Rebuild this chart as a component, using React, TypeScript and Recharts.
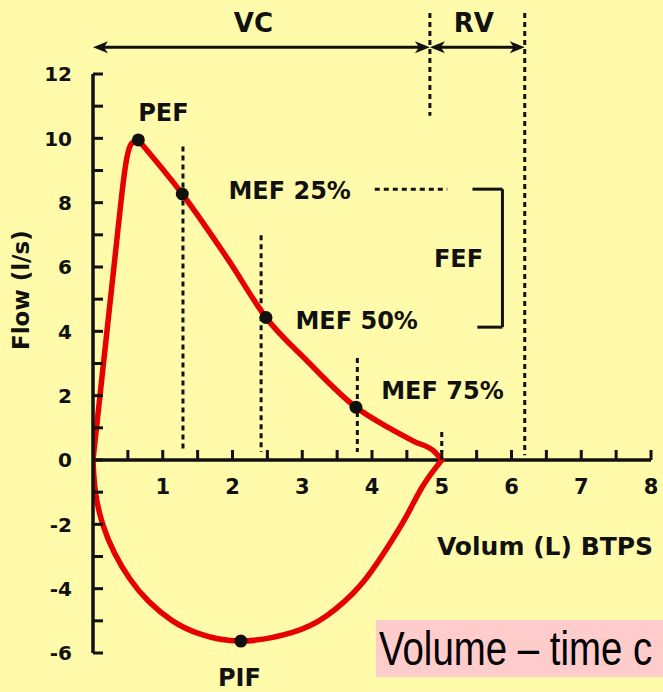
import React from 'react';
import { ComposedChart, Line, Scatter, XAxis, YAxis, ReferenceLine, ReferenceDot } from 'recharts';

// expiration, rising limb (volume L, flow l/s)
const riseVolume = [0, 0.06, 0.13, 0.2, 0.27, 0.34, 0.41, 0.47, 0.54, 0.65];
const riseFlow = [0, 1.2, 2.6, 4.0, 5.4, 6.8, 8.2, 9.2, 9.8, 9.95];

// expiration, falling limb
const fallVolume = [0.65, 1.28, 1.95, 2.48, 3.06, 3.77, 4.25, 4.6, 4.9, 5.0];
const fallFlow = [9.95, 8.27, 6.19, 4.43, 3.1, 1.64, 0.99, 0.58, 0.25, 0];

// inspiration
const inspVolume = [5.0, 4.92, 4.72, 4.49, 4.2, 3.82, 3.34, 2.86, 2.12, 1.52, 1.14, 0.8, 0.53, 0.31, 0.14, 0.035, 0];
const inspFlow = [0, -0.22, -0.84, -1.76, -2.79, -3.93, -4.86, -5.36, -5.63, -5.4, -5.0, -4.4, -3.7, -2.9, -2.0, -1.0, 0];

// marked points
const keyNames = ['PEF', 'MEF 25%', 'MEF 50%', 'MEF 75%', 'PIF'];
const keyVolume = [0.65, 1.28, 2.48, 3.77, 2.12];
const keyFlow = [9.95, 8.27, 4.43, 1.64, -5.63];

// dotted guides under MEF points and at end of expiration
const guideVolume = [1.29, 2.41, 3.79, 5.0];
const guideTop = [9.75, 6.99, 3.17, 0.87];

const vcEnd = 4.83;
const rvEnd = 6.19;
const fefTop = 8.42;
const fefBottom = 4.13;

const yTicks = [-6, -5, -4, -3, -2, -1, 0, 1, 2, 3, 4, 5, 6, 7, 8, 9, 10, 11, 12];
const xTicks = [0.5, 1, 1.5, 2, 2.5, 3, 3.5, 4, 4.5, 5, 5.5, 6, 6.5, 7, 7.5, 8];
const xTickLabels = ['1', '2', '3', '4', '5', '6', '7', '8'];

const caption = 'Volume – time c';

const INK = '#111';
const RED = '#e60000';
const FONT = '"DejaVu Sans", sans-serif';

const toRows = (vol: number[], flow: number[]) => vol.map((v, i) => ({ v, f: flow[i] }));

const YTick = (props: any) => {
  const { x, y, payload } = props;
  const val = payload.value;
  return (
    <g>
      <line x1={x} y1={y} x2={x + 10} y2={y} stroke={INK} strokeWidth={3} />
      {val % 2 === 0 && (
        <text x={x - 21} y={y} dy="0.36em" textAnchor="end" fontSize={20} fontFamily={FONT} fontWeight="bold" fill={INK}>
          {val}
        </text>
      )}
    </g>
  );
};

const xTickShape = (v: number) => (p: any) => {
  const idx = Number.isInteger(v) ? v - 1 : -1;
  return (
    <g>
      <line x1={p.cx} y1={p.cy} x2={p.cx} y2={p.cy - 10} stroke={INK} strokeWidth={3} />
      {idx >= 0 && (
        <text x={p.cx} y={p.cy + 26} dy="0.36em" textAnchor="middle" fontSize={21} fontFamily={FONT} fontWeight="bold" fill={INK}>
          {xTickLabels[idx]}
        </text>
      )}
    </g>
  );
};

const textAt = (text: string, size: number, rotate = 0) => (p: any) => (
  <text
    x={p.cx}
    y={p.cy}
    dy="0.36em"
    textAnchor="middle"
    fontSize={size}
    fontFamily={FONT}
    fontWeight="bold"
    fill={INK}
    transform={rotate ? `rotate(${rotate} ${p.cx} ${p.cy})` : undefined}
  >
    {text}
  </text>
);

const doubleArrow = (p: any) => {
  const { x1, y1, x2, y2 } = p;
  const h = 15;
  const w = 6;
  return (
    <g>
      <line x1={x1 + 6} y1={y1} x2={x2 - 6} y2={y2} stroke={INK} strokeWidth={3} />
      <polygon points={`${x1},${y1} ${x1 + h},${y1 - w} ${x1 + h - 4},${y1} ${x1 + h},${y1 + w}`} fill={INK} />
      <polygon points={`${x2},${y2} ${x2 - h},${y2 - w} ${x2 - h + 4},${y2} ${x2 - h},${y2 + w}`} fill={INK} />
    </g>
  );
};

const dashed = { stroke: INK, strokeWidth: 3, strokeDasharray: '5 4' };

const App = () => {
  const keyData = keyVolume.map((v, i) => ({ v, f: keyFlow[i], name: keyNames[i] }));
  const labelPos: Record<string, [number, number]> = {
    PEF: [1.01, 10.8],
    'MEF 25%': [2.82, 8.39],
    'MEF 50%': [3.78, 4.35],
    'MEF 75%': [5.01, 2.17],
    PIF: [2.1, -6.77],
  };

  return (
    <div style={{ position: 'absolute', left: 0, top: 0, width: 663, height: 692, overflow: 'hidden', background: '#fffbaa' }}>
      <ComposedChart width={663} height={692} margin={{ top: 74, right: 12, bottom: 39, left: 0 }}>
        <XAxis dataKey="v" type="number" domain={[0, 8]} allowDataOverflow hide />
        <YAxis
          type="number"
          domain={[-6, 12]}
          ticks={yTicks}
          interval={0}
          width={93}
          allowDataOverflow
          axisLine={{ stroke: INK, strokeWidth: 3.5 }}
          tickLine={false}
          tickSize={0}
          tickMargin={0}
          tick={<YTick />}
        />

        {/* x axis drawn on the zero line */}
        <ReferenceLine segment={[{ x: 0, y: 0 }, { x: 8, y: 0 }]} stroke={INK} strokeWidth={3.5} ifOverflow="visible" />
        {xTicks.map((v) => (
          <ReferenceDot key={`xt-${v}`} x={v} y={0} r={1} ifOverflow="visible" shape={xTickShape(v)} />
        ))}

        {/* guides */}
        {guideVolume.map((v, i) => (
          <ReferenceLine key={`g-${v}`} segment={[{ x: v, y: guideTop[i] }, { x: v, y: 0.25 }]} {...dashed} ifOverflow="visible" />
        ))}
        <ReferenceLine segment={[{ x: vcEnd, y: 13.9 }, { x: vcEnd, y: 10.7 }]} {...dashed} ifOverflow="visible" />
        <ReferenceLine segment={[{ x: rvEnd, y: 13.9 }, { x: rvEnd, y: 0.15 }]} {...dashed} ifOverflow="visible" />
        <ReferenceLine segment={[{ x: 0, y: 12.83 }, { x: vcEnd, y: 12.83 }]} ifOverflow="visible" shape={doubleArrow} />
        <ReferenceLine segment={[{ x: vcEnd, y: 12.83 }, { x: rvEnd, y: 12.83 }]} ifOverflow="visible" shape={doubleArrow} />

        {/* FEF bracket */}
        <ReferenceLine segment={[{ x: 4.04, y: fefTop }, { x: 5.08, y: fefTop }]} {...dashed} ifOverflow="visible" />
        <ReferenceLine segment={[{ x: 5.44, y: fefTop }, { x: 5.87, y: fefTop }]} stroke={INK} strokeWidth={3} ifOverflow="visible" />
        <ReferenceLine segment={[{ x: 5.87, y: fefTop }, { x: 5.87, y: fefBottom }]} stroke={INK} strokeWidth={3} ifOverflow="visible" />
        <ReferenceLine segment={[{ x: 5.51, y: fefBottom }, { x: 5.87, y: fefBottom }]} stroke={INK} strokeWidth={3} ifOverflow="visible" />

        <Line data={toRows(riseVolume, riseFlow)} dataKey="f" type="natural" stroke={RED} strokeWidth={5.5} dot={false} strokeLinecap="round" isAnimationActive={false} />
        <Line data={toRows(fallVolume, fallFlow)} dataKey="f" type="monotone" stroke={RED} strokeWidth={5.5} dot={false} strokeLinecap="round" isAnimationActive={false} />
        <Line data={toRows(inspVolume, inspFlow)} dataKey="f" type="natural" stroke={RED} strokeWidth={5.5} dot={false} strokeLinecap="round" isAnimationActive={false} />
        <Scatter data={keyData} dataKey="f" fill={INK} isAnimationActive={false} shape={(p: any) => <circle cx={p.cx} cy={p.cy} r={6.5} fill={INK} />} />

        {/* text annotations */}
        {keyData.map((d) => (
          <ReferenceDot key={`lbl-${d.name}`} x={labelPos[d.name][0]} y={labelPos[d.name][1]} r={1} ifOverflow="visible" shape={textAt(d.name, 24)} />
        ))}
        <ReferenceDot x={2.3} y={13.59} r={1} ifOverflow="visible" shape={textAt('VC', 26)} />
        <ReferenceDot x={5.46} y={13.59} r={1} ifOverflow="visible" shape={textAt('RV', 26)} />
        <ReferenceDot x={5.24} y={6.27} r={1} ifOverflow="visible" shape={textAt('FEF', 24)} />
        <ReferenceDot x={6.48} y={-2.67} r={1} ifOverflow="visible" shape={textAt('Volum (L) BTPS', 25)} />
        <ReferenceDot x={-1.03} y={5.28} r={1} ifOverflow="visible" shape={textAt('Flow (l/s)', 23, -90)} />
      </ComposedChart>
      <div
        style={{
          position: 'absolute',
          left: 376,
          top: 620,
          width: 287,
          height: 57,
          background: '#ffcccc',
          overflow: 'hidden',
        }}
      >
        <span
          style={{
            display: 'inline-block',
            fontFamily: '"Liberation Sans", Arial, sans-serif',
            fontSize: 48,
            lineHeight: '57px',
            whiteSpace: 'nowrap',
            color: '#000',
            marginLeft: 3,
            transform: 'scaleX(0.8)',
            transformOrigin: '0 50%',
          }}
        >
          {caption}
        </span>
      </div>
    </div>
  );
};

export default App;
